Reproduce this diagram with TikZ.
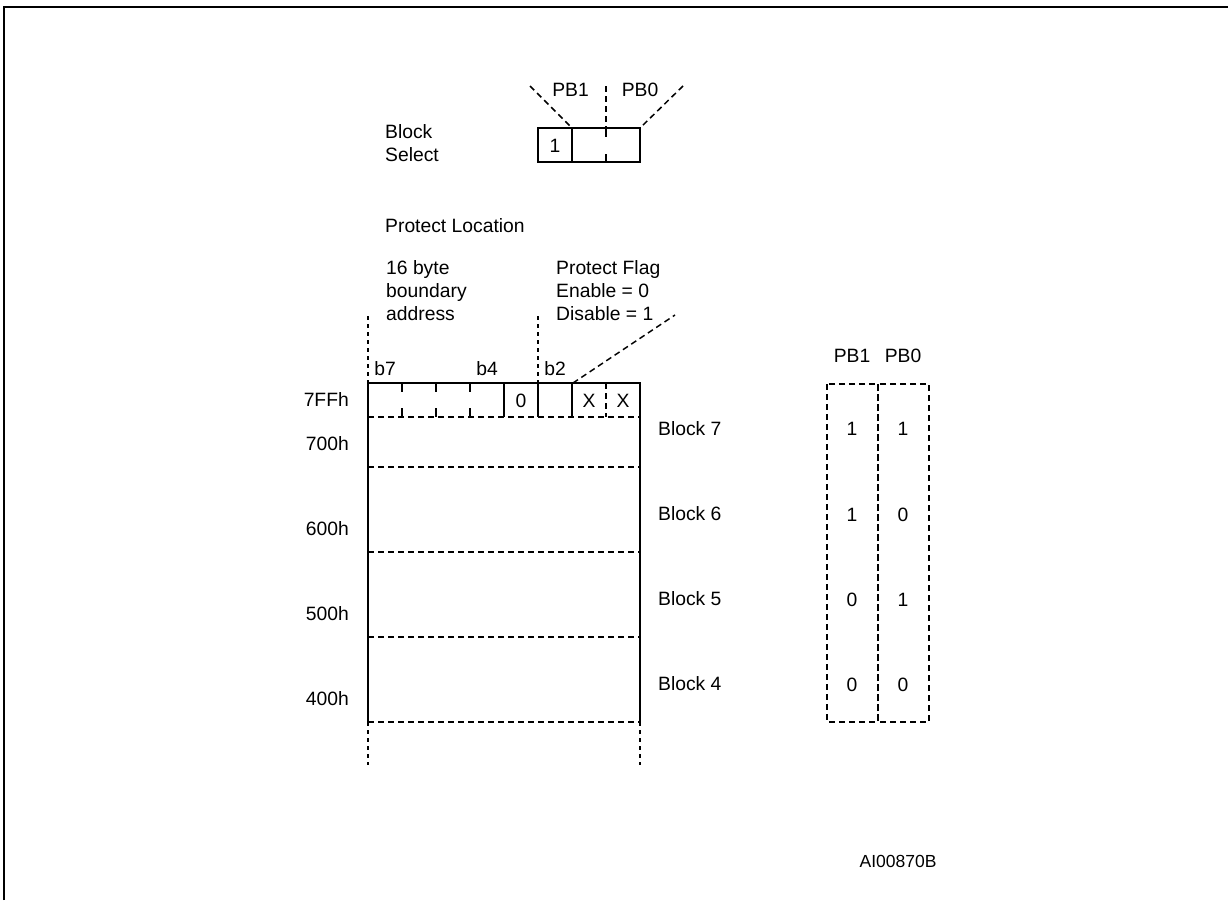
\documentclass[tikz,border=0pt]{standalone}
\usepackage{fontspec}
\setmainfont{Liberation Sans}
\begin{document}
\begin{tikzpicture}[x=1pt,y=-1pt,
  txt/.style={inner sep=0pt, font=\fontsize{19.3}{23}\selectfont},
  smalltxt/.style={inner sep=0pt, font=\fontsize{17.5}{21}\selectfont},
  solidln/.style={line width=2pt, line cap=butt},
  dashln/.style={line width=1.5pt, dash pattern=on 6pt off 4pt},
  dotln/.style={line width=1.3pt, dash pattern=on 4pt off 4pt},
  framestyle/.style={line width=2.5pt}]
\useasboundingbox (0,0) rectangle (1228,900);
% frame
\coordinate (frBL) at (4,900);
\coordinate (frTL) at (4,7);
\coordinate (frTR) at (1228,7);
\draw[framestyle] (frBL) -- (frTL) -- (frTR);

% ---------- Block Select ----------
\node[txt, anchor=base west] (blk) at (385,138) {Block};
\node[txt, anchor=base west] (sel) at (385,161) {Select};
\coordinate (bsA) at (538,128);
\coordinate (bsB) at (640,162);
\draw[solidln] (bsA) rectangle (bsB);
\coordinate (bsD1t) at (572,128);
\coordinate (bsD1b) at (572,162);
\draw[solidln] (bsD1t) -- (bsD1b);
\coordinate (bsMt) at (606,128);
\coordinate (bsMb) at (606,162);
\draw[solidln] (bsMt) -- ++(0,9);
\draw[solidln] (bsMb) -- ++(0,-8);
\node[txt, anchor=base] (one) at (555,152) {1};
\coordinate (pbl) at (530,86);
\coordinate (pbm) at (606,86);
\coordinate (pbr) at (683,86);
\coordinate (bsR) at (640,128);
\draw[dashln] (pbl) -- (bsD1t);
\draw[dashln] (pbm) -- (bsMt);
\draw[dashln] (pbr) -- (bsR);
\node[txt, anchor=base] (pb1) at (570.5,96) {PB1};
\node[txt, anchor=base] (pb0) at (640,96) {PB0};

% ---------- Protect location ----------
\node[txt, anchor=base west] (ploc) at (385,232) {Protect Location};
\node[txt, anchor=base west] (l16) at (386,274) {16 byte};
\node[txt, anchor=base west] (lbd) at (386,297) {boundary};
\node[txt, anchor=base west] (lad) at (386,320) {address};
\node[txt, anchor=base west] (pf) at (556,274) {Protect Flag};
\node[txt, anchor=base west] (en) at (556,297) {Enable = 0};
\node[txt, anchor=base west] (dis) at (556,320) {Disable = 1};

% bit labels
\node[txt, anchor=base] (b7) at (385,375) {b7};
\node[txt, anchor=base] (b4) at (487,375) {b4};
\node[txt, anchor=base] (b2) at (555,375) {b2};

% guide lines
\coordinate (g1t) at (368,316);
\coordinate (g1b) at (368,383);
\coordinate (g2t) at (538,316);
\coordinate (g2b) at (538,383);
\draw[dotln] (g1t) -- (g1b);
\draw[dotln] (g2t) -- (g2b);
\coordinate (pfA) at (573,383);
\coordinate (pfB) at (675,315);
\draw[dashln] (pfA) -- (pfB);

% ---------- memory box ----------
\coordinate (mTL) at (368,383);
\coordinate (mTR) at (640,383);
\coordinate (mBL) at (368,722);
\coordinate (mBR) at (640,722);
\draw[solidln] (mBL) -- (mTL) -- (mTR) -- (mBR);
\foreach \x in {504,538,572} \draw[solidln] (\x,383) -- (\x,417);
\foreach \x in {402,436,470} {
  \draw[solidln] (\x,383) -- (\x,392);
  \draw[solidln] (\x,408) -- (\x,417);
}
\draw[dashln] (606,383) -- (606,417);
\foreach \y in {417,467,552,637,722} \draw[dashln] (368,\y) -- (640,\y);
\coordinate (eL) at (368,765);
\coordinate (eR) at (640,765);
\draw[dotln] (mBL) -- (eL);
\draw[dotln] (mBR) -- (eR);

\node[txt, anchor=base] (v0) at (521,407) {0};
\node[txt, anchor=base] (x1) at (589,407) {X};
\node[txt, anchor=base] (x2) at (623,407) {X};

% address labels
\node[txt, anchor=base east] (a7ff) at (349,406) {7FFh};
\node[txt, anchor=base east] (a700) at (349,450) {700h};
\node[txt, anchor=base east] (a600) at (349,535) {600h};
\node[txt, anchor=base east] (a500) at (349,620) {500h};
\node[txt, anchor=base east] (a400) at (349,705) {400h};

% block labels
\node[txt, anchor=base west] (bk7) at (658,435) {Block 7};
\node[txt, anchor=base west] (bk6) at (658,520) {Block 6};
\node[txt, anchor=base west] (bk5) at (658,605) {Block 5};
\node[txt, anchor=base west] (bk4) at (658,690) {Block 4};

% ---------- table ----------
\node[txt, anchor=base] (tpb1) at (852,362) {PB1};
\node[txt, anchor=base] (tpb0) at (903,362) {PB0};
\coordinate (tA) at (827,384);
\coordinate (tM) at (878,722);
\coordinate (tMt) at (878,384);
\coordinate (tB) at (929,722);
\draw[dashln] (tA) rectangle (tM);
\draw[dashln] (tMt) rectangle (tB);
\foreach \y/\a/\b [count=\i] in {435/1/1,521/1/0,606/0/1,691/0/0} {
  \node[txt, anchor=base] (ta\i) at (852,\y) {\a};
  \node[txt, anchor=base] (tb\i) at (903,\y) {\b};
}

\node[smalltxt, anchor=base] (code) at (898,867) {AI00870B};
\end{tikzpicture}
\end{document}
